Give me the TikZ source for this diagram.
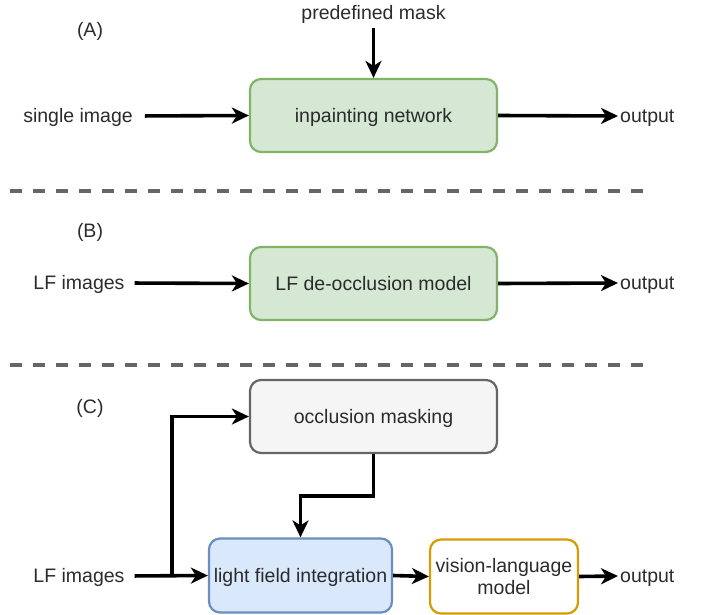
\documentclass[tikz,border=0pt]{standalone}
\usepackage{fontspec}
\setmainfont{Liberation Sans}
\usetikzlibrary{arrows.meta}
\definecolor{gfill}{HTML}{D5E8D4}
\definecolor{gdraw}{HTML}{82B366}
\definecolor{bfill}{HTML}{DAE8FC}
\definecolor{bdraw}{HTML}{6C8EBF}
\definecolor{grfill}{HTML}{F5F5F5}
\definecolor{grdraw}{HTML}{666666}
\definecolor{odraw}{HTML}{D79B00}
\definecolor{txt}{HTML}{2B2B2B}
\definecolor{sep}{HTML}{666666}
\begin{document}
\begin{tikzpicture}[x=1pt,y=-1pt,
  every node/.style={font=\fontsize{19.5}{23}\selectfont, text=txt},
  fixh/.style={text height=15.5pt, text depth=2.5pt},
  box/.style={draw, rounded corners=11pt, line width=2.2pt, minimum height=73pt, inner sep=2pt, align=center},
  gbox/.style={box, fixh, fill=gfill, draw=gdraw, minimum width=247pt},
  arr/.style={line width=3.6pt, -{Stealth[length=17pt,width=16pt,inset=5pt]}},
  sepline/.style={draw=sep, line width=3.5pt, dash pattern=on 12pt off 11pt},
  lbl/.style={inner sep=2pt, fixh}]
\useasboundingbox (0,0) rectangle (706,615);
% (A)
\node[lbl] (labA) at (90,30) {(A)};
\node[lbl] (mask) at (373.5,13) {predefined mask};
\node[gbox] (inp) at (373.5,115.5) {inpainting network};
\node[lbl] (single) at (78,116) {single image};
\node[lbl, anchor=west] (outA) at (618,116) {output};
\draw[arr, shorten <=4pt] (mask.south) -- (inp.north);
\draw[arr, shorten <=10pt] (single.east) -- (inp.west);
\draw[arr] (inp.east) -- (outA.west);
% separator 1
\coordinate (s1a) at (10,191);
\coordinate (s1b) at (650,191);
\draw[sepline] (s1a) -- (s1b);
% (B)
\node[lbl] (labB) at (90,231) {(B)};
\node[gbox] (deocc) at (373.5,283.5) {LF de-occlusion model};
\node[lbl] (lfB) at (79,283) {LF images};
\node[lbl, anchor=west] (outB) at (618,283) {output};
\draw[arr, shorten <=8pt] (lfB.east) -- (deocc.west);
\draw[arr] (deocc.east) -- (outB.west);
% separator 2
\coordinate (s2a) at (10,365);
\coordinate (s2b) at (650,365);
\draw[sepline] (s2a) -- (s2b);
% (C)
\node[lbl] (labC) at (90,407) {(C)};
\node[box, fixh, fill=grfill, draw=grdraw, minimum width=247pt] (occ) at (373.5,416.5) {occlusion masking};
\node[box, fixh, fill=bfill, draw=bdraw, minimum width=183pt, minimum height=74pt] (lfi) at (300.5,575.5) {light field integration};
\node[box, fill=white, draw=odraw, minimum width=148pt, minimum height=74pt, font=\fontsize{19.5}{22}\selectfont] (vlm) at (504,576.5) {vision-language\\model};
\node[lbl] (lfC) at (79,576) {LF images};
\node[lbl, anchor=west] (outC) at (618,576) {output};
\coordinate (branch) at (172,576);
\draw[arr, shorten <=8pt] (lfC.east) -- (lfi.west);
\draw[arr] (branch) |- (occ.west);
\draw[arr] (occ.south) -- ++(0,42) -| (lfi.north);
\draw[arr] (lfi.east) -- (vlm.west);
\draw[arr] (vlm.east) -- (outC.west);
\end{tikzpicture}
\end{document}
